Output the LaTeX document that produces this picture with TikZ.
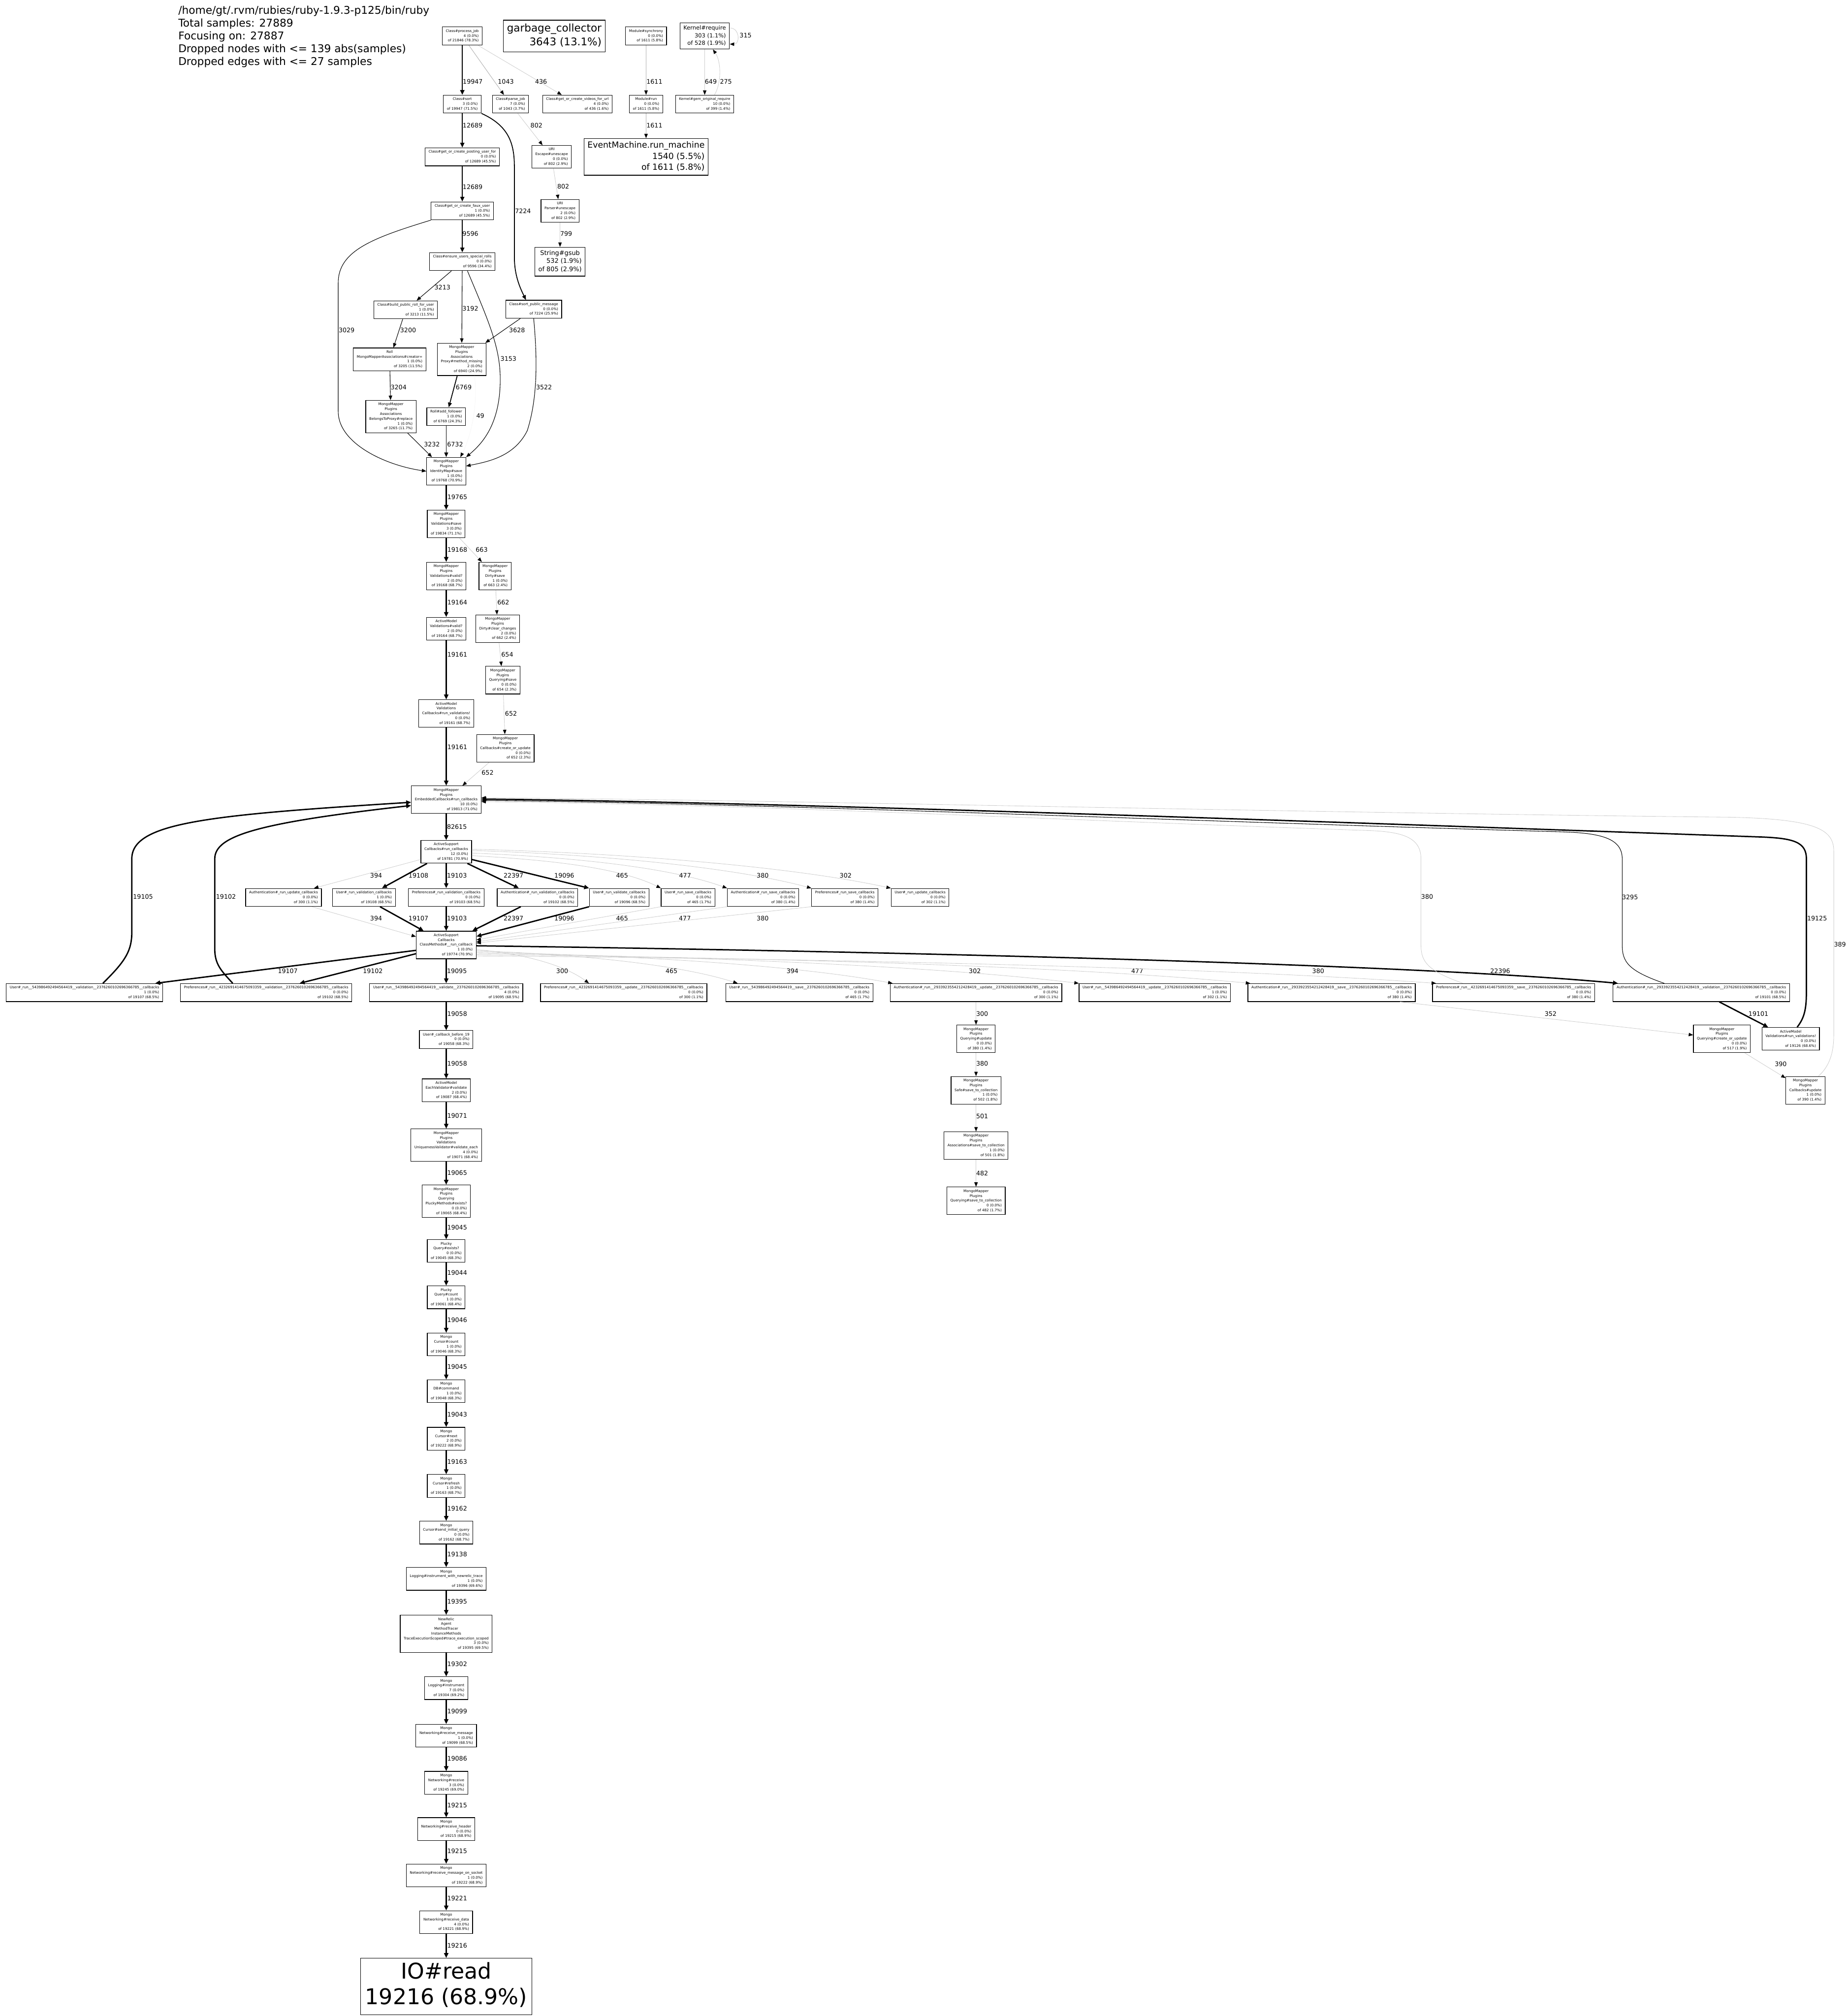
\documentclass[tikz,border=0pt]{standalone}
\usepackage{fontspec}
\setmainfont{DejaVu Sans}
\usetikzlibrary{arrows.meta,calc,positioning}

\newcommand{\fnbox}[3]{%
  \begin{tabular}{@{}c@{}}#1\\\multicolumn{1}{@{}r@{}}{#2}\\\multicolumn{1}{@{}r@{}}{of #3}\end{tabular}}
\newcommand{\leafbox}[2]{%
  \begin{tabular}{@{}c@{}}#1\\\multicolumn{1}{@{}r@{}}{#2}\end{tabular}}

\begin{document}
\begin{tikzpicture}[
    x=0.03848cm, y=-0.03848cm,
    >={Triangle[length=3.6pt 0.5, width=2.6pt 0.9, color=black]},
    fn/.style={draw, line width=0.5pt, inner xsep=3pt, inner ysep=1.5pt,
      font=\fontsize{3}{4.1}\selectfont},
    bigfn/.style={draw, line width=0.5pt, inner xsep=3pt, inner ysep=2pt},
    elab/.style={anchor=west, inner sep=0pt, text=black, font=\fontsize{5.3}{6}\selectfont},
    w1/.style={->, line width=1.15pt},
    w2/.style={->, line width=0.95pt},
    w3/.style={->, line width=0.75pt},
    w4/.style={->, line width=0.45pt},
    w5/.style={->, line width=0.4pt, gray!60},
    w6/.style={->, line width=0.35pt, gray!40},
    w7/.style={->, line width=0.3pt, gray!8},
  ]

  \useasboundingbox (0,0) rectangle (1437,1568);
  \fill[white] (0,0) rectangle (1437,1568);

  \node[anchor=north west, align=left, inner sep=0pt,
    font=\fontsize{9.1}{10.9}\selectfont] (hdr) at (138.5,4.3)
    {/home/gt/.rvm/rubies/ruby-1.9.3-p125/bin/ruby\\Total samples: 27889\\Focusing on: 27887\\Dropped nodes with <= 139 abs(samples)\\Dropped edges with <= 27 samples};

  %top row
  \node[fn] (pjob) at (359.5,28) {\fnbox{Class\#process\_job}{4 (0.0\%)}{21846 (78.3\%)}};
  \node[bigfn, font=\fontsize{9}{11.5}\selectfont] (gc) at (431,28) {\leafbox{garbage\_collector}{3643 (13.1\%)}};
  \node[fn] (msync) at (502.4,28) {\fnbox{Module\#synchrony}{0 (0.0\%)}{1611 (5.8\%)}};
  \node[bigfn, inner ysep=1.6pt, font=\fontsize{4.8}{6.4}\selectfont] (kreq) at (548,28) {\fnbox{Kernel\#require}{303 (1.1\%)}{528 (1.9\%)}};

  \node[fn] (sortn) at (359.5,81) {\fnbox{Class\#sort}{3 (0.0\%)}{19947 (71.5\%)}};
  \node[fn] (pjb) at (397,81) {\fnbox{Class\#parse\_job}{7 (0.0\%)}{1043 (3.7\%)}};
  \node[fn] (vids) at (449,81) {\fnbox{Class\#get\_or\_create\_videos\_for\_url}{4 (0.0\%)}{436 (1.6\%)}};
  \node[fn] (mrun) at (502.4,81) {\fnbox{Module\#run}{0 (0.0\%)}{1611 (5.8\%)}};
  \node[fn] (kgem) at (548,81) {\fnbox{Kernel\#gem\_original\_require}{10 (0.0\%)}{399 (1.4\%)}};

  \node[fn] (posting) at (359.5,122) {\fnbox{Class\#get\_or\_create\_posting\_user\_for}{0 (0.0\%)}{12689 (45.5\%)}};
  \node[fn] (uesc) at (429,122) {\fnbox{URI\\Escape\#unescape}{0 (0.0\%)}{802 (2.9\%)}};
  \node[bigfn, inner ysep=1.5pt, font=\fontsize{7.2}{9.4}\selectfont] (em) at (502.4,122) {\fnbox{EventMachine.run\_machine}{1540 (5.5\%)}{1611 (5.8\%)}};

  \node[fn] (faux) at (359.5,164) {\fnbox{Class\#get\_or\_create\_faux\_user}{1 (0.0\%)}{12689 (45.5\%)}};
  \node[fn] (upar) at (435.5,164) {\fnbox{URI\\Parser\#unescape}{2 (0.0\%)}{802 (2.9\%)}};

  \node[fn] (ensure) at (359.5,203.5) {\fnbox{Class\#ensure\_users\_special\_rolls}{0 (0.0\%)}{9596 (34.4\%)}};
  \node[bigfn, inner ysep=1.8pt, font=\fontsize{5.4}{7}\selectfont] (gsub) at (435.5,203.5) {\fnbox{String\#gsub}{532 (1.9\%)}{805 (2.9\%)}};

  \node[fn] (bprf) at (315.5,241) {\fnbox{Class\#build\_public\_roll\_for\_user}{1 (0.0\%)}{3213 (11.5\%)}};
  \node[fn] (spm) at (415,240.5) {\fnbox{Class\#sort\_public\_message}{0 (0.0\%)}{7224 (25.9\%)}};
  \node[fn] (creator) at (303,279.5) {\fnbox{Roll\\MongoMapperAssociations\#creator=}{1 (0.0\%)}{3205 (11.5\%)}};
  \node[fn] (mmiss) at (359,279.5) {\fnbox{MongoMapper\\Plugins\\Associations\\Proxy\#method\_missing}{2 (0.0\%)}{6940 (24.9\%)}};
  \node[fn] (belongs) at (304,324) {\fnbox{MongoMapper\\Plugins\\Associations\\BelongsToProxy\#replace}{1 (0.0\%)}{3265 (11.7\%)}};
  \node[fn] (addf) at (347,324) {\fnbox{Roll\#add\_follower}{1 (0.0\%)}{6769 (24.3\%)}};
  \node[fn] (idmap) at (347,366.5) {\fnbox{MongoMapper\\Plugins\\IdentityMap\#save}{1 (0.0\%)}{19768 (70.9\%)}};
  \node[fn] (vsave) at (347,407.5) {\fnbox{MongoMapper\\Plugins\\Validations\#save}{3 (0.0\%)}{19834 (71.1\%)}};
  \node[fn] (vvalid) at (347,448) {\fnbox{MongoMapper\\Plugins\\Validations\#valid?}{2 (0.0\%)}{19168 (68.7\%)}};
  \node[fn] (dsave) at (385,448) {\fnbox{MongoMapper\\Plugins\\Dirty\#save}{1 (0.0\%)}{663 (2.4\%)}};
  \node[fn] (amvalid) at (347,489) {\fnbox{ActiveModel\\Validations\#valid?}{2 (0.0\%)}{19164 (68.7\%)}};
  \node[fn] (dclear) at (387,489) {\fnbox{MongoMapper\\Plugins\\Dirty\#clear\_changes}{2 (0.0\%)}{662 (2.4\%)}};
  \node[fn] (qsave) at (391,529) {\fnbox{MongoMapper\\Plugins\\Querying\#save}{0 (0.0\%)}{654 (2.3\%)}};
  \node[fn] (runval) at (347,555) {\fnbox{ActiveModel\\Validations\\Callbacks\#run\_validations!}{0 (0.0\%)}{19161 (68.7\%)}};
  \node[fn] (cou) at (393,582) {\fnbox{MongoMapper\\Plugins\\Callbacks\#create\_or\_update}{0 (0.0\%)}{652 (2.3\%)}};
  \node[fn] (ecb) at (347,622) {\fnbox{MongoMapper\\Plugins\\EmbeddedCallbacks\#run\_callbacks}{10 (0.0\%)}{19813 (71.0\%)}};
  \node[fn] (ascb) at (347,662.5) {\fnbox{ActiveSupport\\Callbacks\#run\_callbacks}{12 (0.0\%)}{19781 (70.9\%)}};

  %middle row
  \node[fn] (aupdcb) at (220.5,698) {\fnbox{Authentication\#\_run\_update\_callbacks}{0 (0.0\%)}{300 (1.1\%)}};
  \node[fn] (uvalcb) at (283,698) {\fnbox{User\#\_run\_validation\_callbacks}{1 (0.0\%)}{19108 (68.5\%)}};
  \node[fn] (pvalcb) at (347,698) {\fnbox{Preferences\#\_run\_validation\_callbacks}{0 (0.0\%)}{19103 (68.5\%)}};
  \node[fn] (avalcb) at (418,698) {\fnbox{Authentication\#\_run\_validation\_callbacks}{0 (0.0\%)}{19102 (68.5\%)}};
  \node[fn] (uvdcb) at (481.5,698) {\fnbox{User\#\_run\_validate\_callbacks}{0 (0.0\%)}{19096 (68.5\%)}};
  \node[fn] (usavecb) at (535,698) {\fnbox{User\#\_run\_save\_callbacks}{0 (0.0\%)}{465 (1.7\%)}};
  \node[fn] (asavecb) at (593.4,698) {\fnbox{Authentication\#\_run\_save\_callbacks}{0 (0.0\%)}{380 (1.4\%)}};
  \node[fn] (psavecb) at (657,698) {\fnbox{Preferences\#\_run\_save\_callbacks}{0 (0.0\%)}{380 (1.4\%)}};
  \node[fn] (uupdcb) at (715.5,698) {\fnbox{User\#\_run\_update\_callbacks}{0 (0.0\%)}{302 (1.1\%)}};

  \node[fn] (asrc) at (347,735) {\fnbox{ActiveSupport\\Callbacks\\ClassMethods\#\_\_run\_callback}{1 (0.0\%)}{19774 (70.9\%)}};

  %bottom row
  \node[fn] (uvalid) at (65.7,772) {\fnbox{User\#\_run\_\_543986492494564419\_\_validation\_\_2376260102696366785\_\_callbacks}{1 (0.0\%)}{19107 (68.5\%)}};
  \node[fn] (pvalid) at (207,772) {\fnbox{Preferences\#\_run\_\_4232691414675093359\_\_validation\_\_2376260102696366785\_\_callbacks}{0 (0.0\%)}{19102 (68.5\%)}};
  \node[fn] (uvdt) at (347,772) {\fnbox{User\#\_run\_\_543986492494564419\_\_validate\_\_2376260102696366785\_\_callbacks}{4 (0.0\%)}{19095 (68.5\%)}};
  \node[fn] (pupd) at (485,772) {\fnbox{Preferences\#\_run\_\_4232691414675093359\_\_update\_\_2376260102696366785\_\_callbacks}{0 (0.0\%)}{300 (1.1\%)}};
  \node[fn] (usave) at (621.6,772) {\fnbox{User\#\_run\_\_543986492494564419\_\_save\_\_2376260102696366785\_\_callbacks}{0 (0.0\%)}{465 (1.7\%)}};
  \node[fn] (aupd) at (759,772) {\fnbox{Authentication\#\_run\_\_2933923554212428419\_\_update\_\_2376260102696366785\_\_callbacks}{0 (0.0\%)}{300 (1.1\%)}};
  \node[fn] (uupd) at (898,772) {\fnbox{User\#\_run\_\_543986492494564419\_\_update\_\_2376260102696366785\_\_callbacks}{1 (0.0\%)}{302 (1.1\%)}};
  \node[fn] (asave) at (1035.5,772) {\fnbox{Authentication\#\_run\_\_2933923554212428419\_\_save\_\_2376260102696366785\_\_callbacks}{0 (0.0\%)}{380 (1.4\%)}};
  \node[fn] (psave) at (1177,772) {\fnbox{Preferences\#\_run\_\_4232691414675093359\_\_save\_\_2376260102696366785\_\_callbacks}{0 (0.0\%)}{380 (1.4\%)}};
  \node[fn] (avalid) at (1323,772) {\fnbox{Authentication\#\_run\_\_2933923554212428419\_\_validation\_\_2376260102696366785\_\_callbacks}{0 (0.0\%)}{19101 (68.5\%)}};

  \node[fn] (qupd) at (759,808) {\fnbox{MongoMapper\\Plugins\\Querying\#update}{0 (0.0\%)}{380 (1.4\%)}};
  \node[fn] (safe) at (759,848) {\fnbox{MongoMapper\\Plugins\\Safe\#save\_to\_collection}{1 (0.0\%)}{502 (1.8\%)}};
  \node[fn] (assoc) at (759,891) {\fnbox{MongoMapper\\Plugins\\Associations\#save\_to\_collection}{1 (0.0\%)}{501 (1.8\%)}};
  \node[fn] (qstc) at (759,934) {\fnbox{MongoMapper\\Plugins\\Querying\#save\_to\_collection}{0 (0.0\%)}{482 (1.7\%)}};

  \node[fn] (qcou) at (1339,808) {\fnbox{MongoMapper\\Plugins\\Querying\#create\_or\_update}{0 (0.0\%)}{517 (1.9\%)}};
  \node[fn] (amrv) at (1392.5,808) {\fnbox{ActiveModel\\Validations\#run\_validations!}{0 (0.0\%)}{19126 (68.6\%)}};
  \node[fn] (cbupd) at (1404,848) {\fnbox{MongoMapper\\Plugins\\Callbacks\#update}{1 (0.0\%)}{390 (1.4\%)}};

  %main chain
  \node[fn] (cbb) at (347,808.5) {\fnbox{User\#\_callback\_before\_19}{0 (0.0\%)}{19058 (68.3\%)}};
  \node[fn] (eachv) at (347,848) {\fnbox{ActiveModel\\EachValidator\#validate}{2 (0.0\%)}{19087 (68.4\%)}};
  \node[fn] (uniq) at (347,890.7) {\fnbox{MongoMapper\\Plugins\\Validations\\UniquenessValidator\#validate\_each}{4 (0.0\%)}{19071 (68.4\%)}};
  \node[fn] (pluckm) at (347,934.3) {\fnbox{MongoMapper\\Plugins\\Querying\\PluckyMethods\#exists?}{0 (0.0\%)}{19065 (68.4\%)}};
  \node[fn] (qexists) at (347,973) {\fnbox{Plucky\\Query\#exists?}{0 (0.0\%)}{19045 (68.3\%)}};
  \node[fn] (qcount) at (347,1009) {\fnbox{Plucky\\Query\#count}{1 (0.0\%)}{19061 (68.4\%)}};
  \node[fn] (ccount) at (347,1045.7) {\fnbox{Mongo\\Cursor\#count}{1 (0.0\%)}{19046 (68.3\%)}};
  \node[fn] (dbcmd) at (347,1082) {\fnbox{Mongo\\DB\#command}{1 (0.0\%)}{19048 (68.3\%)}};
  \node[fn] (cnext) at (347,1119) {\fnbox{Mongo\\Cursor\#next}{2 (0.0\%)}{19222 (68.9\%)}};
  \node[fn] (crefresh) at (347,1155.7) {\fnbox{Mongo\\Cursor\#refresh}{1 (0.0\%)}{19163 (68.7\%)}};
  \node[fn] (csiq) at (347,1192) {\fnbox{Mongo\\Cursor\#send\_initial\_query}{0 (0.0\%)}{19162 (68.7\%)}};
  \node[fn] (lnr) at (347,1228) {\fnbox{Mongo\\Logging\#instrument\_with\_newrelic\_trace}{1 (0.0\%)}{19396 (69.6\%)}};
  \node[fn] (trace) at (347,1270.7) {\fnbox{NewRelic\\Agent\\MethodTracer\\InstanceMethods\\TraceExecutionScoped\#trace\_execution\_scoped}{3 (0.0\%)}{19395 (69.5\%)}};
  \node[fn] (linst) at (347,1313) {\fnbox{Mongo\\Logging\#instrument}{7 (0.0\%)}{19304 (69.2\%)}};
  \node[fn] (nrmsg) at (347,1350) {\fnbox{Mongo\\Networking\#receive\_message}{1 (0.0\%)}{19099 (68.5\%)}};
  \node[fn] (nrecv) at (347,1386.6) {\fnbox{Mongo\\Networking\#receive}{3 (0.0\%)}{19245 (69.0\%)}};
  \node[fn] (nhdr) at (347,1422.6) {\fnbox{Mongo\\Networking\#receive\_header}{0 (0.0\%)}{19215 (68.9\%)}};
  \node[fn] (nsock) at (347,1458.7) {\fnbox{Mongo\\Networking\#receive\_message\_on\_socket}{1 (0.0\%)}{19222 (68.9\%)}};
  \node[fn] (ndata) at (347,1495) {\fnbox{Mongo\\Networking\#receive\_data}{4 (0.0\%)}{19221 (68.9\%)}};
  \node[bigfn, inner xsep=4pt, font=\fontsize{18.5}{22}\selectfont] (ioread) at (347,1545) {\leafbox{IO\#read}{19216 (68.9\%)}};

  %top edges
  \draw[w1] (pjob) -- (sortn) node[elab] at (359.4,63.6) {19947};
  \draw[w5] (pjob) -- (pjb) node[elab] at (387,63.6) {1043};
  \draw[w6] (pjob) -- (vids) node[elab] at (416,63.6) {436};
  \draw[w5] (msync) -- (mrun) node[elab] at (502.6,63.4) {1611};
  \draw[w6] (kreq) -- (kgem) node[elab] at (548,63.4) {649};
  \draw[w6] ($(kgem.north)+(7.6,0)$) .. controls (561,65) and (561,48) .. ($(kreq.south)+(6.4,0)$) node[elab] at (559.7,63.4) {275};
  \draw[w6] ($(kreq.east)+(0,-6.2)$) .. controls (575.5,21.5) and (575.5,34.5) .. ($(kreq.east)+(0,6.3)$) node[elab] at (575,27.6) {315};
  \draw[w2] (sortn) -- (posting) node[elab] at (359.4,97.7) {12689};
  \draw[w3] (sortn.south east) .. controls (396,98) and (400,112) .. (400,130) -- (400,200) .. controls (400,215) and (405,225) .. ($(spm.north)+(-6,0)$) node[elab] at (400.2,164) {7224};
  \draw[w6] (pjb) -- (uesc) node[elab] at (412.4,97.7) {802};
  \draw[w5] (mrun) -- (em) node[elab] at (502.6,97.4) {1611};
  \draw[w2] (posting) -- (faux) node[elab] at (359.4,145.4) {12689};
  \draw[w6] (uesc) -- (upar) node[elab] at (433.2,145.2) {802};
  \draw[w6] (upar) -- (gsub) node[elab] at (435.5,181.7) {799};
  \draw[w2] (faux) -- (ensure) node[elab] at (359.2,181.7) {9596};
  \draw[w4] (faux.south west) .. controls (290,185) and (263,195) .. (263,220) -- (263,320) .. controls (263,345) and (300,362) .. (idmap.west) node[elab] at (263.2,256.8) {3029};

  %middle part
  \draw[w4] (ensure) -- (bprf) node[elab] at (337.7,223.7) {3213};
  \draw[w4] (ensure) -- (mmiss) node[elab] at (359.4,240.1) {3192};
  \draw[w4] ($(ensure.south)+(4,0)$) .. controls (380,250) and (389,270) .. (389,295) .. controls (389,330) and (375,345) .. (idmap.north east) node[elab] at (389,279.2) {3153};
  \draw[w4] (bprf) -- (creator) node[elab] at (311,256.8) {3200};
  \draw[w4] (spm) -- (mmiss) node[elab] at (395.7,256.8) {3628};
  \draw[w4] (spm.south) .. controls (418,280) and (418,310) .. (410,335) .. controls (400,355) and (380,359) .. ($(idmap.east)+(0,-4)$) node[elab] at (416.7,301.2) {3522};
  \draw[w4] (creator) -- (belongs) node[elab] at (303.6,301.2) {3204};
  \draw[w3] (mmiss) -- (addf) node[elab] at (354.1,301.2) {6769};
  \draw[w7] ($(mmiss.south)+(10,0)$) .. controls (372,315) and (366,340) .. ($(idmap.north)+(11,0)$) node[elab] at (370.3,323.4) {49};
  \draw[w4] (belongs) -- (idmap) node[elab] at (329.5,345.7) {3232};
  \draw[w3] (addf) -- (idmap) node[elab] at (347.4,345.7) {6732};
  \draw[w1] (idmap) -- (vsave) node[elab] at (347.4,386.6) {19765};
  \draw[w1] (vsave) -- (vvalid) node[elab] at (347.4,427.4) {19168};
  \draw[w6] (vsave) -- (dsave) node[elab] at (369.8,427.4) {663};
  \draw[w1] (vvalid) -- (amvalid) node[elab] at (347.4,468.4) {19164};
  \draw[w6] (dsave) -- (dclear) node[elab] at (386.6,468.4) {662};
  \draw[w1] (amvalid) -- (runval) node[elab] at (347.4,509.2) {19161};
  \draw[w6] (dclear) -- (qsave) node[elab] at (389.7,509.2) {654};
  \draw[w6] (qsave) -- (cou) node[elab] at (392.6,555) {652};
  \draw[w1] (runval) -- (ecb) node[elab] at (347.4,581.2) {19161};
  \draw[w6] (cou) -- (ecb) node[elab] at (374.4,600.8) {652};
  \draw[w1] (ecb) -- (ascb) node[elab] at (347.1,643) {82615};

  %run_callbacks fan
  \draw[w6] ($(ascb.west)+(0,6)$) -- ($(aupdcb.north east)+(-6,0)$) node[elab] at (287.7,681) {394};
  \draw[w1] ($(ascb.south west)+(5,0)$) -- ($(uvalcb.north)+(14,0)$) node[elab] at (317.2,681) {19108};
  \draw[w1] (ascb) -- (pvalcb) node[elab] at (347.1,681) {19103};
  \draw[w1] ($(ascb.south east)+(-3.5,0)$) -- ($(avalcb.north)+(-14.5,0)$) node[elab] at (391.1,681) {22397};
  \draw[w1] ($(ascb.east)+(0,6)$) -- (uvdcb.north west) node[elab] at (430.6,681) {19096};
  \draw[w6] ($(ascb.east)+(0,3)$) .. controls +(49,2.7) and +(-35,-17.5) .. (usavecb.north west) node[elab] at (479,681) {465};
  \draw[w6] ($(ascb.east)+(0,1)$) .. controls +(68,2.7) and +(-48,-17.5) .. (asavecb.north west) node[elab] at (528,681) {477};
  \draw[w6] ($(ascb.east)+(0,-1)$) .. controls +(90,2.7) and +(-65,-17.5) .. (psavecb.north west) node[elab] at (588.3,681) {380};
  \draw[w6] ($(ascb.east)+(0,-2)$) .. controls +(112,2.7) and +(-80,-17.5) .. (uupdcb.north west) node[elab] at (652.8,681) {302};

  \draw[w6] ($(aupdcb.south)+(22,0)$) -- ($(asrc.west)+(0,-6.5)$) node[elab] at (287.7,714.4) {394};
  \draw[w1] ($(uvalcb.south)+(12.5,0)$) -- ($(asrc.north west)+(6,0)$) node[elab] at (317.2,714.4) {19107};
  \draw[w1] (pvalcb) -- (asrc) node[elab] at (347.1,714.4) {19103};
  \draw[w1] ($(avalcb.south)+(-13,0)$) -- ($(asrc.north east)+(-3.3,0)$) node[elab] at (391.1,714.4) {22397};
  \draw[w1] (uvdcb.south west) -- ($(asrc.east)+(0,-6.7)$) node[elab] at (430.6,714.4) {19096};
  \draw[w6] (usavecb.south west) -- ($(asrc.east)+(0,-4)$) node[elab] at (479,714.4) {465};
  \draw[w6] (asavecb.south west) -- ($(asrc.east)+(0,-2.5)$) node[elab] at (527.8,714.4) {477};
  \draw[w6] (psavecb.south west) -- ($(asrc.east)+(0,-1.5)$) node[elab] at (588.3,714.4) {380};

  %__run_callback fan
  \draw[w1] (asrc.190) -- ($(uvalid.north)+(55,0)$) node[elab] at (215.6,755.2) {19107};
  \draw[w1] (asrc.196) -- ($(pvalid.north)+(26,0)$) node[elab] at (281.7,755.2) {19102};
  \draw[w1] (asrc) -- (uvdt) node[elab] at (347.1,755.2) {19095};
  \draw[w6] ($(asrc.east)+(0,3.6)$) .. controls +(30,2.5) and +(-21.5,-16) .. ($(pupd.north)+(-27,0)$) node[elab] at (432.4,755.2) {300};
  \draw[w6] ($(asrc.east)+(0,4.5)$) .. controls +(69,2.4) and +(-50,-16) .. ($(usave.north west)+(9.5,0)$) node[elab] at (517.4,755.2) {465};
  \draw[w6] ($(asrc.east)+(0,5.5)$) .. controls +(112,2.3) and +(-80,-15) .. ($(aupd.north west)+(2,0)$) node[elab] at (611.5,755.2) {394};
  \draw[w6] ($(asrc.east)+(0,6.5)$) .. controls +(162,2.2) and +(-116,-14) .. (uupd.north west) node[elab] at (753.3,755.2) {302};
  \draw[w6] ($(asrc.east)+(0,7.5)$) .. controls +(209,2) and +(-149,-14) .. ($(asave.north west)+(2,0)$) node[elab] at (879.6,755.2) {477};
  \draw[w6] ($(asrc.east)+(0,8.5)$) .. controls +(259,2) and +(-185,-13) .. ($(psave.north west)+(3,0)$) node[elab] at (1020.3,755.2) {380};
  \draw[w1] ($(asrc.east)+(0,0.6)$) .. controls (700,740) and (1100,750) .. ($(avalid.north west)+(4,0)$) node[elab] at (1158.4,755.2) {22396};

  %back to run_callbacks
  \draw[w1] ($(uvalid.north)+(14.3,0)$) .. controls (97,748) and (102.5,740) .. (102.5,725) -- (102.5,668) .. controls (102.5,640) and (160,634) .. ($(ecb.west)+(0,2)$) node[elab] at (103,697.5) {19105};
  \draw[w1] ($(pvalid.north)+(-26,0)$) .. controls (172,755) and (167,750) .. (167,738) -- (167,668) .. controls (167,650) and (200,640) .. ($(ecb.west)+(0,4.5)$) node[elab] at (167.5,697.5) {19102};
  \draw[w6] ($(psave.north west)+(24,0)$) .. controls (1110,755) and (1105,748) .. (1105,735) -- (1105,668) .. controls (1105,652) and (1092,647) .. (1065,646) .. controls (800,637) and (600,626) .. ($(ecb.east)+(0,1.5)$) node[elab] at (1105,697.5) {380};
  \draw[w4] ($(avalid.north west)+(40,0)$) .. controls (1266,755) and (1261.5,748) .. (1261.5,735) -- (1261.5,668) .. controls (1261.5,652) and (1245,648) .. (1215,647) .. controls (900,638) and (600,625) .. ($(ecb.east)+(0,0.5)$) node[elab] at (1261.2,697.7) {3295};
  \draw[w1] ($(amrv.north)+(5,0)$) .. controls (1403,792) and (1404.7,785) .. (1404.7,772) -- (1404.7,668) .. controls (1404.7,655) and (1395,652) .. (1370,651) .. controls (1000,638) and (600,624) .. ($(ecb.east)+(0,-0.5)$) node[elab] at (1404.8,714.3) {19125};
  \draw[w6] ($(cbupd.north)+(10,0)$) .. controls (1422,830) and (1426,820) .. (1426,805) -- (1426,662) .. controls (1426,645) and (1412,637) .. (1345,635.6) .. controls (1000,632) and (600,622) .. ($(ecb.east)+(0,-1.5)$) node[elab] at (1426,734.7) {389};

  %right bottom
  \draw[w1] (avalid) -- (amrv) node[elab] at (1359.2,788.5) {19101};
  \draw[w6] ($(asave.south east)+(-12,0)$) -- ($(qcou.west)+(0,-3)$) node[elab] at (1201,788.5) {352};
  \draw[w6] (qcou) -- (cbupd) node[elab] at (1380,827.5) {390};
  \draw[w6] (aupd) -- (qupd) node[elab] at (759,788.5) {300};
  \draw[w6] (qupd) -- (safe) node[elab] at (759,827.2) {380};
  \draw[w6] (safe) -- (assoc) node[elab] at (759,868) {501};
  \draw[w6] (assoc) -- (qstc) node[elab] at (759,912.4) {482};

  %main chain
  \draw[w1] (uvdt) -- (cbb) node[elab] at (347.3,788.6) {19058};
  \draw[w1] (cbb) -- (eachv) node[elab] at (347.3,827.1) {19058};
  \draw[w1] (eachv) -- (uniq) node[elab] at (347.3,867.7) {19071};
  \draw[w1] (uniq) -- (pluckm) node[elab] at (347.3,912.2) {19065};
  \draw[w1] (pluckm) -- (qexists) node[elab] at (347.3,954.6) {19045};
  \draw[w1] (qexists) -- (qcount) node[elab] at (347.3,989.9) {19044};
  \draw[w1] (qcount) -- (ccount) node[elab] at (347.3,1026.5) {19046};
  \draw[w1] (ccount) -- (dbcmd) node[elab] at (347.3,1063.1) {19045};
  \draw[w1] (dbcmd) -- (cnext) node[elab] at (347.3,1100) {19043};
  \draw[w1] (cnext) -- (crefresh) node[elab] at (347.3,1136.8) {19163};
  \draw[w1] (crefresh) -- (csiq) node[elab] at (347.3,1173.4) {19162};
  \draw[w1] (csiq) -- (lnr) node[elab] at (347.3,1208.7) {19138};
  \draw[w1] (lnr) -- (trace) node[elab] at (347.3,1245.6) {19395};
  \draw[w1] (trace) -- (linst) node[elab] at (347.3,1294.1) {19302};
  \draw[w1] (linst) -- (nrmsg) node[elab] at (347.3,1331) {19099};
  \draw[w1] (nrmsg) -- (nrecv) node[elab] at (347.3,1367.6) {19086};
  \draw[w1] (nrecv) -- (nhdr) node[elab] at (347.3,1404.2) {19215};
  \draw[w1] (nhdr) -- (nsock) node[elab] at (347.3,1439.7) {19215};
  \draw[w1] (nsock) -- (ndata) node[elab] at (347.3,1476.5) {19221};
  \draw[w1] (ndata) -- (ioread) node[elab] at (347.3,1513.2) {19216};
\end{tikzpicture}
\end{document}
